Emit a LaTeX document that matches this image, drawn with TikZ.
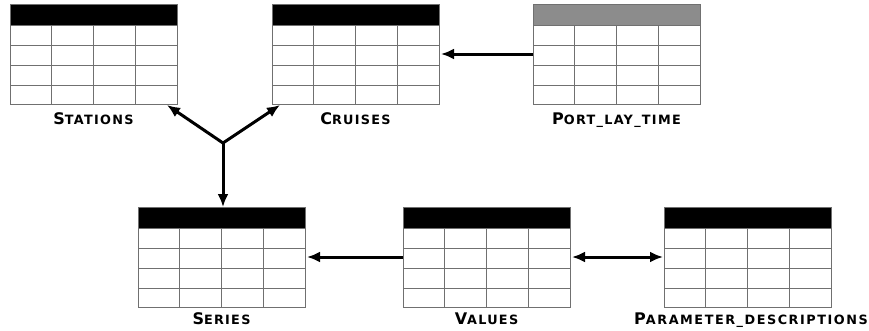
\documentclass[tikz,border=0pt]{standalone}
\usepackage{fontspec}
\usetikzlibrary{arrows.meta,calc}
\newfontfamily\capfont[LetterSpace=10]{DejaVu Sans}
\newfontfamily\widecapfont[LetterSpace=12]{DejaVu Sans}
% small-caps style caption: large first letter, smaller capitals after it
\newcommand\tcap[2]{\capfont\bfseries{\fontsize{16}{16}\selectfont #1}{\fontsize{12.8}{12.8}\selectfont #2}}
\newcommand\widetcap[2]{\widecapfont\bfseries{\fontsize{16}{16}\selectfont #1}{\fontsize{12.8}{12.8}\selectfont #2}}
\definecolor{gridgray}{HTML}{707070}
\definecolor{headgray}{HTML}{8C8C8C}
\tikzset{
  tablebox/.style={draw=gridgray, line width=0.9pt, fill=white, minimum width=167pt, minimum height=100pt, inner sep=0pt, outer sep=0pt, anchor=north west},
  gridline/.style={draw=gridgray, line width=0.9pt},
  conn/.style={draw=black, line width=3pt, -{Latex[length=13pt,width=11pt]}},
  conn2/.style={draw=black, line width=3pt, {Latex[length=13pt,width=11pt]}-{Latex[length=13pt,width=11pt]}},
  caption/.style={anchor=base, inner sep=0pt}
}
% a table: name, x, y of the top-left corner, header colour
\newcommand\dbtable[4]{%
  \node[tablebox] (#1) at (#2,#3) {};
  \fill[#4] (#1.north west) rectangle ($(#1.north east)+(0,21)$);
  \foreach \r in {41,61,81} {
    \draw[gridline] ($(#1.north west)+(0,\r)$) -- ($(#1.north east)+(0,\r)$);
  }
  \foreach \c in {41.75,83.5,125.25} {
    \draw[gridline] ($(#1.north west)+(\c,21)$) -- ($(#1.south west)+(\c,0)$);
  }
  \draw[gridline] (#1.north west) rectangle (#1.south east);
  \draw[gridline] ($(#1.north west)+(0,21)$) -- ($(#1.north east)+(0,21)$);
}
\begin{document}
\begin{tikzpicture}[x=1pt, y=-1pt]
  \useasboundingbox (0,0) rectangle (869,330);

  % upper row
  \dbtable{stations}{10}{4}{black}
  \dbtable{cruises}{272}{4}{black}
  \dbtable{portlay}{533}{4}{headgray}
  % lower row
  \dbtable{series}{138}{207}{black}
  \dbtable{values}{403}{207}{black}
  \dbtable{params}{664}{207}{black}

  % captions
  \node[caption] (stationsL) at ($(stations.south)+(0,20)$) {\tcap{S}{TATIONS}};
  \node[caption] (cruisesL) at ($(cruises.south)+(0,20)$) {\tcap{C}{RUISES}};
  \node[caption] (portlayL) at ($(portlay.south)+(0,20)$) {\tcap{P}{ORT\_LAY\_TIME}};
  \node[caption] (seriesL) at ($(series.south)+(0,17.5)$) {\tcap{S}{ERIES}};
  \node[caption] (valuesL) at ($(values.south)+(0,17.5)$) {\tcap{V}{ALUES}};
  \node[caption, anchor=base west] (paramsL) at ($(params.south west)+(-30,17.5)$) {\widetcap{P}{ARAMETER\_DESCRIPTIONS}};

  % connectors
  \coordinate (fork) at (223,143);
  \draw[conn] (fork) -- ($(stations.south east)+(-10,1)$);
  \draw[conn] (fork) -- ($(cruises.south west)+(8,1)$);
  \draw[conn] (fork) -- (series.north -| fork);
  \draw[conn, shorten >=2pt] (portlay.west) -- (cruises.east);
  \draw[conn, shorten >=2pt] (values.west) -- (series.east);
  \draw[conn2, shorten <=2pt, shorten >=1pt] (values.east) -- (params.west);
\end{tikzpicture}
\end{document}
